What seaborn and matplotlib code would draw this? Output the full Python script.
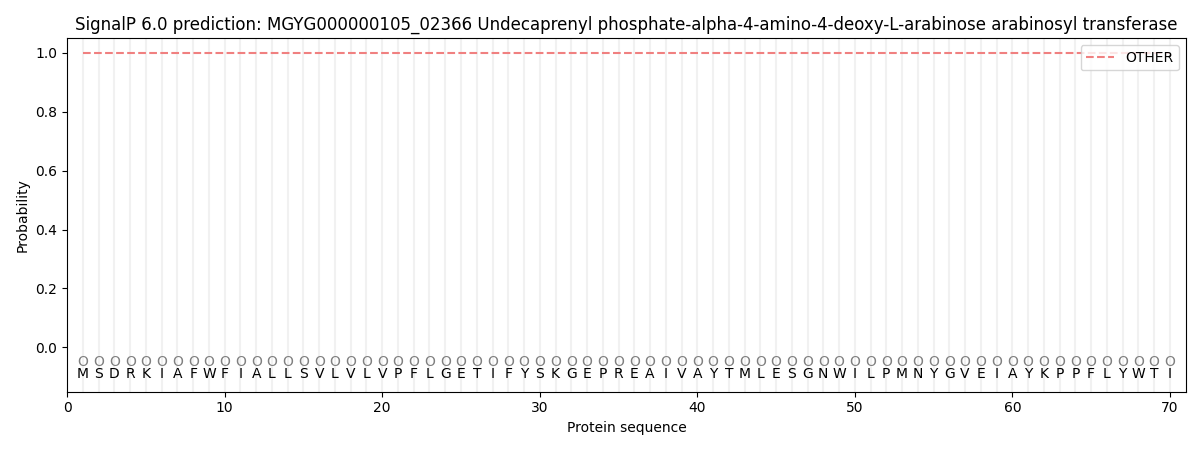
import matplotlib
matplotlib.use("Agg")
import matplotlib.pyplot as plt
import seaborn as sns
import pandas as pd
import numpy as np

sequence = list("MSDRKIAFWFIALLSVLVLVPFLGETIFYSKGEPREAIVAYTMLESGNWILPMNYGVEIAYKPPFLYWTI")
positions = list(range(1, len(sequence) + 1))
other_prob = [1.0] * len(sequence)
region_labels = ["O"] * len(sequence)

df = pd.DataFrame({"pos": positions, "prob": other_prob, "label": "OTHER"})

fig, ax = plt.subplots(figsize=(12, 4.5), dpi=100)
for p in positions:
    ax.axvline(p, color="#e8e8e8", linewidth=1.5, alpha=0.6, zorder=0)

sns.lineplot(data=df, x="pos", y="prob", hue="label", palette=["#f08080"],
             linestyle="--", linewidth=1.5, ax=ax)

for p, aa, r in zip(positions, sequence, region_labels):
    ax.text(p, -0.05, r, ha="center", va="center", fontsize=10, color="grey")
    ax.text(p, -0.09, aa, ha="center", va="center", fontsize=10, color="black")

ax.set_xlim(0, 71)
ax.set_ylim(-0.15, 1.05)
ax.set_xlabel("Protein sequence")
ax.set_ylabel("Probability")
ax.set_title("SignalP 6.0 prediction: MGYG000000105_02366 Undecaprenyl phosphate-alpha-4-amino-4-deoxy-L-arabinose arabinosyl transferase")
ax.legend(loc="upper right")
plt.subplots_adjust(left=0.056, right=0.988, top=0.915, bottom=0.13)
fig.savefig("out.png")
